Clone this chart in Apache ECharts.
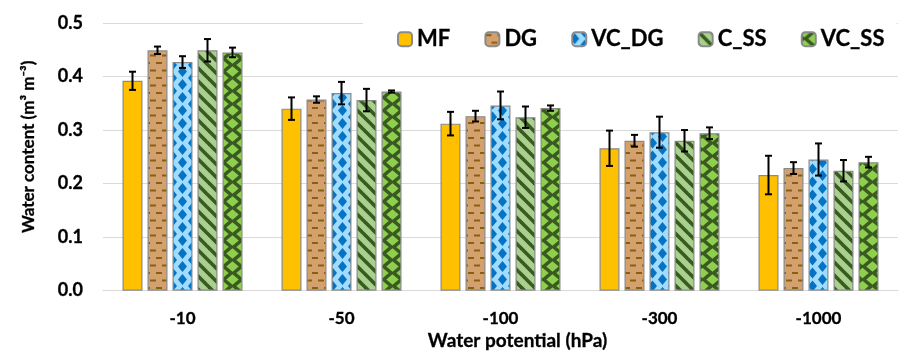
<!DOCTYPE html>
<html>
<head>
<meta charset="utf-8">
<script src="https://cdn.jsdelivr.net/npm/echarts@6/dist/echarts.min.js"></script>
<style>html,body{margin:0;padding:0;background:#fff;}#c{width:899px;height:356px;}</style>
</head>
<body>
<div id="c"></div>
<script>
const categories = ['-10', '-50', '-100', '-300', '-1000'];
const seriesNames = ['MF', 'DG', 'VC_DG', 'C_SS', 'VC_SS'];
const MF = [0.392, 0.340, 0.312, 0.266, 0.216];
const MF_err = [0.017, 0.021, 0.022, 0.033, 0.036];
const DG = [0.449, 0.357, 0.326, 0.280, 0.229];
const DG_err = [0.007, 0.006, 0.010, 0.011, 0.011];
const VC_DG = [0.427, 0.369, 0.346, 0.296, 0.245];
const VC_DG_err = [0.011, 0.021, 0.026, 0.029, 0.030];
const C_SS = [0.449, 0.356, 0.324, 0.280, 0.224];
const C_SS_err = [0.021, 0.021, 0.020, 0.020, 0.020];
const VC_SS = [0.445, 0.372, 0.341, 0.294, 0.240];
const VC_SS_err = [0.009, 0.002, 0.005, 0.011, 0.010];
const yTicks = [0, 0.1, 0.2, 0.3, 0.4, 0.5];

const values = [MF, DG, VC_DG, C_SS, VC_SS];
const errors = [MF_err, DG_err, VC_DG_err, C_SS_err, VC_SS_err];

function makePattern(w, h, bg, draw) {
  const cv = document.createElement('canvas');
  cv.width = w; cv.height = h;
  const ctx = cv.getContext('2d');
  ctx.fillStyle = bg; ctx.fillRect(0, 0, w, h);
  draw(ctx, w, h);
  return { image: cv, repeat: 'repeat' };
}
function diamond(ctx, cx, cy, rx, ry) {
  ctx.beginPath();
  ctx.moveTo(cx, cy - ry); ctx.lineTo(cx + rx, cy); ctx.lineTo(cx, cy + ry); ctx.lineTo(cx - rx, cy); ctx.closePath();
  ctx.fill();
}
function diamondTile(fg, rx, ry, x0) {
  return function (ctx, w, h) {
    ctx.fillStyle = fg;
    for (let dx = -w; dx <= w; dx += w) {
      for (let dy = -h; dy <= h; dy += h) {
        diamond(ctx, x0 + dx, h / 2 + dy, rx, ry);
        diamond(ctx, x0 + w / 2 + dx, dy, rx, ry);
      }
    }
  };
}
const patMF = '#FFC000';
const patDG = makePattern(12, 15, '#D4A06E', function (ctx) {
  ctx.fillStyle = '#85620C';
  ctx.fillRect(0, 2, 6, 2);
  ctx.fillRect(6, 9.5, 6, 2);
});
const patVCDG = makePattern(20, 13, '#A0DCFF', diamondTile('#0672C2', 4.5, 5.5, 2.5));
const patCSS = makePattern(13, 13, '#A9D18E', function (ctx) {
  ctx.strokeStyle = '#3A5A22'; ctx.lineWidth = 3.6;
  for (let k = -13; k <= 13; k += 13) {
    ctx.beginPath(); ctx.moveTo(k - 2, -2); ctx.lineTo(k + 15, 15); ctx.stroke();
  }
});
const patVCSS = makePattern(20, 13, '#3A5A22', diamondTile('#8ED04E', 6.2, 5.2, 12.5));
const fills = [patMF, patDG, patVCDG, patCSS, patVCSS];

const FONT = 'Lato, "Open Sans", sans-serif';

const barSeries = seriesNames.map((n, i) => ({
  name: n,
  type: 'bar',
  data: values[i],
  barWidth: 20,
  barGap: '25%',
  itemStyle: { color: fills[i], borderColor: '#8A8A8A', borderWidth: 1.2 },
  emphasis: { disabled: true }
}));

const errData = [];
values.forEach((arr, si) => arr.forEach((v, ci) => errData.push([ci, si, v, errors[si][ci]])));

const errSeries = {
  type: 'custom',
  name: 'err',
  z: 10,
  silent: true,
  encode: { x: 0, y: 2 },
  data: errData,
  renderItem: function (params, api) {
    const ci = api.value(0), si = api.value(1), v = api.value(2), e = api.value(3);
    const off = (si - 2) * 25;
    const top = api.coord([ci, v + e]);
    const bot = api.coord([ci, v - e]);
    const x = top[0] + off;
    const style = { stroke: '#000', lineWidth: 2 };
    return {
      type: 'group',
      children: [
        { type: 'line', shape: { x1: x, y1: top[1], x2: x, y2: bot[1] }, style: style },
        { type: 'line', shape: { x1: x - 3.5, y1: top[1], x2: x + 3.5, y2: top[1] }, style: style },
        { type: 'line', shape: { x1: x - 3.5, y1: bot[1], x2: x + 3.5, y2: bot[1] }, style: style }
      ]
    };
  }
};

const chart = echarts.init(document.getElementById('c'), null, { renderer: 'canvas' });
chart.setOption({
  animation: false,
  backgroundColor: '#fff',
  grid: { left: 103, right: 1, top: 23, bottom: 64, containLabel: false },
  legend: {
    data: seriesNames,
    left: 363, top: 20,
    padding: [8, 12, 6, 34],
    backgroundColor: '#fff',
    itemWidth: 14, itemHeight: 14, itemGap: 34,
    textStyle: { fontFamily: FONT, fontWeight: 'bold', fontSize: 22, color: '#000', textBorderColor: '#000', textBorderWidth: 0.3 },
    selectedMode: false
  },
  xAxis: {
    type: 'category',
    data: categories,
    axisLine: { lineStyle: { color: '#D9D9D9', width: 1 } },
    axisTick: { show: false },
    axisLabel: { fontFamily: FONT, fontWeight: 'bold', fontSize: 17, color: '#000', margin: 19, textBorderColor: '#000', textBorderWidth: 0.3 },
    name: 'Water potential (hPa)',
    nameLocation: 'middle',
    nameGap: 39,
    nameTextStyle: { fontFamily: FONT, fontWeight: 'bold', fontSize: 19, color: '#000', padding: [0, 0, 0, 34], textBorderColor: '#000', textBorderWidth: 0.3 }
  },
  yAxis: {
    type: 'value',
    min: 0, max: 0.5, interval: 0.1,
    axisLine: { show: false },
    axisTick: { show: false },
    splitLine: { lineStyle: { color: '#D9D9D9', width: 1 } },
    axisLabel: {
      fontFamily: FONT, fontWeight: 'bold', fontSize: 18, color: '#000', margin: 20, textBorderColor: '#000', textBorderWidth: 0.3,
      formatter: v => (yTicks.find(t => Math.abs(t - v) < 1e-9) ?? v).toFixed(1)
    },
    name: 'Water content (m³ m⁻³)',
    nameLocation: 'middle',
    nameGap: 66,
    nameTextStyle: { fontFamily: FONT, fontWeight: 'bold', fontSize: 17, color: '#000', padding: [0, 0, 0, 20], textBorderColor: '#000', textBorderWidth: 0.3 }
  },
  series: barSeries.concat([errSeries])
});
</script>
</body>
</html>
